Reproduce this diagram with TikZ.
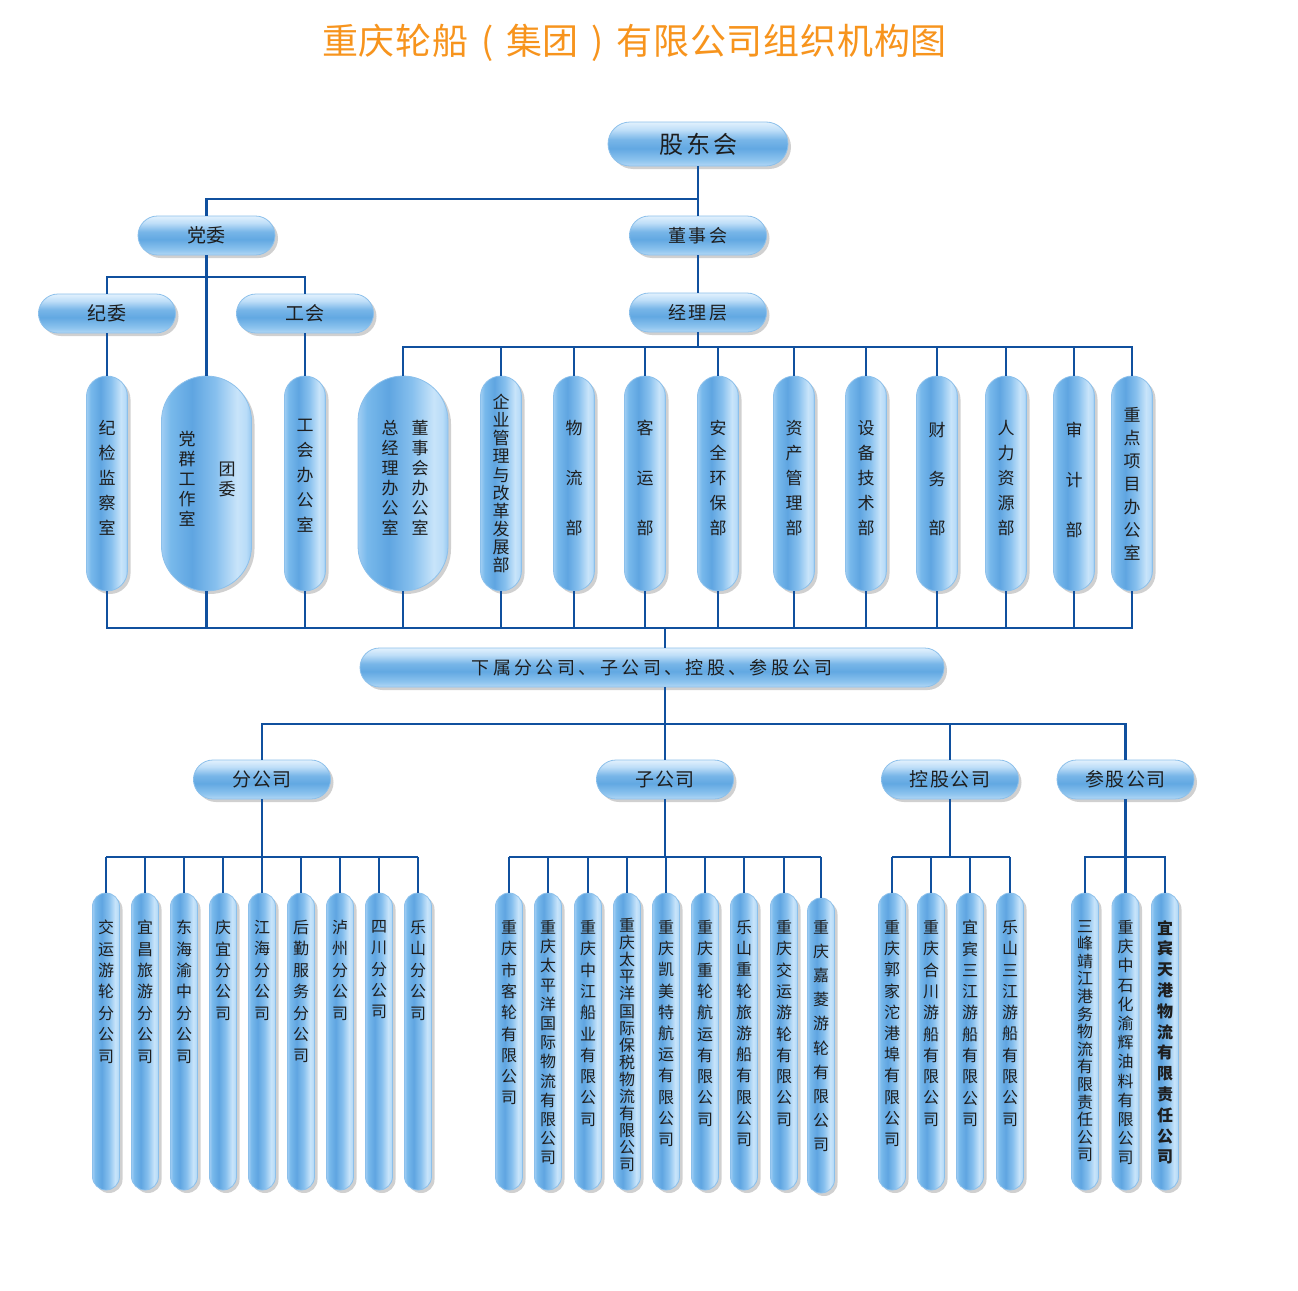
\documentclass[tikz,border=0pt]{standalone}
\usepackage{fontspec}
\setmainfont{Noto Sans CJK SC}
\usetikzlibrary{shadows}
\definecolor{linec}{RGB}{16,80,158}
\definecolor{rimc}{RGB}{140,192,235}
\definecolor{txtc}{RGB}{30,30,30}
\definecolor{titlec}{RGB}{247,148,29}
\definecolor{vpA}{RGB}{160,205,243}
\definecolor{vpB}{RGB}{120,185,235}
\definecolor{vpC}{RGB}{95,165,225}
\definecolor{vpD}{RGB}{135,192,238}
\definecolor{vpE}{RGB}{200,228,250}
\definecolor{vpF}{RGB}{185,220,248}
\definecolor{vpG}{RGB}{150,200,240}
\definecolor{hpA}{RGB}{178,215,245}
\definecolor{hpB}{RGB}{140,195,238}
\definecolor{hpC}{RGB}{98,168,226}
\definecolor{hpD}{RGB}{120,182,232}
\definecolor{hpE}{RGB}{190,222,248}
\definecolor{hpF}{RGB}{226,241,253}
\pgfdeclarehorizontalshading{vpillsh}{100bp}{color(0bp)=(vpA); color(25bp)=(vpA); color(30bp)=(vpB); color(42bp)=(vpC); color(55bp)=(vpD); color(67bp)=(vpE); color(72bp)=(vpF); color(75bp)=(vpG); color(100bp)=(vpG)}
\pgfdeclareverticalshading{hpillsh}{100bp}{color(0bp)=(hpA); color(25bp)=(hpA); color(32bp)=(hpB); color(45bp)=(hpC); color(55bp)=(hpD); color(66bp)=(hpE); color(75bp)=(hpF); color(100bp)=(hpF)}
\makeatletter
\def\vtx@loop#1{\ifx#1\@nil\else\hbox to 1em{\hss#1\hss}\expandafter\vtx@loop\fi}
\newcommand\vtx[2]{\vbox{\baselineskip=#1pt\lineskiplimit=-100pt\lineskip=0pt\expandafter\vtx@loop#2\@nil}}
\def\lsp@loop#1{\ifx#1\@nil\else#1\kern\lsp@sp\relax\expandafter\lsp@loop\fi}
\newcommand\lsp[2]{\def\lsp@sp{#1pt}\expandafter\lsp@loop#2\@nil\kern-#1pt\relax}
\makeatother
\newcommand\cparen[1]{\hbox to 1em{\hss#1\hss}}
\tikzset{
  conn/.style={draw=linec, line width=2.6pt},
  pillshadow/.style={drop shadow={shadow xshift=3pt, shadow yshift=-3pt, opacity=0.3, fill=black!60}},
  hpill/.style={pillshadow, shade, shading=hpillsh, draw=rimc, line width=0.8pt,
    rounded corners=19.5pt, minimum width=137pt, minimum height=39pt, inner sep=0pt,
    text=txtc, font=\fontsize{18}{18}\selectfont},
  vpill/.style={pillshadow, shade, shading=vpillsh, draw=rimc, line width=0.8pt,
    rounded corners=20.5pt, minimum width=41pt, minimum height=215pt, inner sep=0pt},
  wpill/.style={vpill, minimum width=90pt, rounded corners=45pt},
  bpill/.style={vpill, minimum width=27pt, minimum height=297pt, rounded corners=13.5pt},
  vlab/.style={inner sep=0pt, anchor=north, text=txtc, font=\fontsize{17}{17}\selectfont},
  blab/.style={vlab, font=\fontsize{16}{16}\selectfont},
}
\begin{document}
\begin{tikzpicture}[x=1pt,y=-1pt]
\fill[white] (0,0) rectangle (1298,1290);
\useasboundingbox (0,0) rectangle (1298,1290);
% title
\node[text=titlec, font=\fontsize{36}{36}\selectfont, inner sep=0pt] (title) at (634.5,43) {\lsp{0.8}{重庆轮船}\kern0.8pt\cparen{(}\kern0.8pt\lsp{0.8}{集团}\kern0.8pt\cparen{)}\kern0.8pt\lsp{0.8}{有限公司组织机构图}};
% top horizontal pills
\node[hpill, minimum width=180pt, minimum height=44pt, rounded corners=22pt, font=\fontsize{24}{24}\selectfont] (gdh) at (698,144) {\lsp{3}{股东会}};
\node[hpill, font=\fontsize{19}{19}\selectfont] (dw) at (206.5,235.5) {\lsp{1}{党委}};
\node[hpill] (dsh) at (698,235.5) {\lsp{2.3}{董事会}};
\node[hpill, font=\fontsize{19}{19}\selectfont] (jw) at (107,313.5) {\lsp{1}{纪委}};
\node[hpill, font=\fontsize{19}{19}\selectfont] (gh) at (305,313.5) {\lsp{1}{工会}};
\node[hpill] (jlc) at (698,312.5) {\lsp{2.3}{经理层}};
% upper vertical pills
\node[vpill] (u1) at (107,483.5) {};
\node[wpill] (u2) at (206.5,483.5) {};
\node[vpill] (u3) at (305,483.5) {};
\node[wpill] (u4) at (403,483.5) {};
\node[vpill] (u5) at (501,483.5) {};
\node[vpill] (u6) at (574,483.5) {};
\node[vpill] (u7) at (645,483.5) {};
\node[vpill] (u8) at (718,483.5) {};
\node[vpill] (u9) at (794,483.5) {};
\node[vpill] (u10) at (866,483.5) {};
\node[vpill] (u11) at (937,483.5) {};
\node[vpill] (u12) at (1006,483.5) {};
\node[vpill] (u13) at (1074,483.5) {};
\node[vpill] (u14) at (1132,483.5) {};
% upper texts
\node[vlab] (t1) at (107,420) {\vtx{25}{纪检监察室}};
\node[vlab] (t2a) at (187,431) {\vtx{20}{党群工作室}};
\node[vlab] (t2b) at (227,462) {\vtx{20}{团委}};
\node[vlab] (t3) at (305,419) {\vtx{25}{工会办公室}};
\node[vlab] (t4a) at (390,420) {\vtx{20}{总经理办公室}};
\node[vlab] (t4b) at (420,420) {\vtx{20}{董事会办公室}};
\node[vlab] (t5) at (501,394) {\vtx{18.1}{企业管理与改革发展部}};
\node[vlab] (t6) at (574,420) {\vtx{50}{物流部}};
\node[vlab] (t7) at (645,420) {\vtx{50}{客运部}};
\node[vlab] (t8) at (718,420) {\vtx{25}{安全环保部}};
\node[vlab] (t9) at (794,420) {\vtx{25}{资产管理部}};
\node[vlab] (t10) at (866,420) {\vtx{25}{设备技术部}};
\node[vlab] (t11) at (937,422) {\vtx{49}{财务部}};
\node[vlab] (t12) at (1006,420) {\vtx{25}{人力资源部}};
\node[vlab] (t13) at (1074,422) {\vtx{50}{审计部}};
\node[vlab] (t14) at (1132,407) {\vtx{23}{重点项目办公室}};
% middle pills
\node[hpill, minimum width=584pt] (xs) at (652,667.5) {\lsp{3.4}{下属分公司、子公司、控股、参股公司}};
\node[hpill, font=\fontsize{19}{19}\selectfont] (c1) at (262,779.5) {\lsp{1.5}{分公司}};
\node[hpill, font=\fontsize{19}{19}\selectfont] (c2) at (665,779.5) {\lsp{1.5}{子公司}};
\node[hpill, font=\fontsize{19}{19}\selectfont] (c3) at (950,779.5) {\lsp{1.5}{控股公司}};
\node[hpill, font=\fontsize{19}{19}\selectfont] (c4) at (1125.5,779.5) {\lsp{1.5}{参股公司}};
% bus coordinates
\coordinate (b0) at (0,199);
\coordinate (b1) at (0,277);
\coordinate (b2) at (0,347);
\coordinate (b3) at (0,628);
\coordinate (b4) at (0,724);
\coordinate (b5) at (0,857);
\coordinate (xd) at (665,0);
% top connectors
\draw[conn] (gdh.south) -- (dsh.north);
\draw[conn] (gdh.south |- b0) -| (dw.north);
\draw[conn] (dsh.south) -- (jlc.north);
\draw[conn] (dw.south) -- (u2.north);
\draw[conn] (jw.north) |- (dw.south |- b1) -| (gh.north);
\draw[conn] (jw.south) -- (u1.north);
\draw[conn] (gh.south) -- (u3.north);
\draw[conn] (jlc.south) -- (jlc.south |- b2);
\draw[conn] (u4.north) |- (u14.north |- b2) -- (u14.north);
\foreach \n in {5,...,13} {\draw[conn] (u\n.north) -- (u\n.north |- b2);}
% lower bus of departments
\draw[conn] (u1.south) |- (u14.south |- b3) -- (u14.south);
\foreach \n in {2,...,13} {\draw[conn] (u\n.south) -- (u\n.south |- b3);}
\draw[conn] (xd |- b3) -- (xd |- xs.north);
\draw[conn] (xd |- xs.south) -- (xd |- b4);
\draw[conn] (c1.north) |- (c4.north |- b4) -- (c4.north);
\draw[conn] (c2.north) -- (c2.north |- b4);
\draw[conn] (c3.north) -- (c3.north |- b4);
% branch companies
\foreach \i/\x/\p/\t in {1/106/21.4/交运游轮分公司, 2/145/21.4/宜昌旅游分公司, 3/184/21.4/东海渝中分公司, 4/223/21.4/庆宜分公司, 5/262/21.4/江海分公司, 6/301/21.4/后勤服务分公司, 7/340/21.4/泸州分公司, 8/379/21.4/四川分公司, 9/418/21.4/乐山分公司} {
  \node[bpill] (f\i) at (\x,1041.5) {};
  \node[blab] (f\i t) at (\x,920) {\vtx{\p}{\t}};
  \draw[conn] (f\i.north) -- (f\i.north |- b5);
}
\draw[conn] (f1.north |- b5) -- (f9.north |- b5);
\draw[conn] (c1.south) -- (c1.south |- b5);
% subsidiaries
\foreach \i/\x/\p/\t in {1/509/21.3/重庆市客轮有限公司, 2/548/19.2/重庆太平洋国际物流有限公司, 3/588/21.3/重庆中江船业有限公司, 5/666/21.2/重庆凯美特航运有限公司, 6/705/21.3/重庆重轮航运有限公司, 7/744/21.2/乐山重轮旅游船有限公司, 8/784/21.3/重庆交运游轮有限公司} {
  \node[bpill] (s\i) at (\x,1041.5) {};
  \node[blab] (s\i t) at (\x,920) {\vtx{\p}{\t}};
  \draw[conn] (s\i.north) -- (s\i.north |- b5);
}
\node[bpill] (s4) at (627,1041.5) {};
\node[blab] (s4t) at (627,918) {\vtx{17.1}{重庆太平洋国际保税物流有限公司}};
\draw[conn] (s4.north) -- (s4.north |- b5);
\node[bpill, minimum height=295pt] (s9) at (821,1045.5) {};
\node[blab] (s9t) at (821,920) {\vtx{24.1}{重庆嘉菱游轮有限公司}};
\draw[conn] (s9.north) -- (s9.north |- b5);
\draw[conn] (s1.north |- b5) -- (s9.north |- b5);
\draw[conn] (c2.south) -- (c2.south |- b5);
% holding companies
\foreach \i/\x/\p/\t in {1/892/21.2/重庆郭家沱港埠有限公司, 2/931/21.3/重庆合川游船有限公司, 3/970/21.3/宜宾三江游船有限公司, 4/1010/21.3/乐山三江游船有限公司} {
  \node[bpill] (k\i) at (\x,1041.5) {};
  \node[blab] (k\i t) at (\x,920) {\vtx{\p}{\t}};
  \draw[conn] (k\i.north) -- (k\i.north |- b5);
}
\draw[conn] (k1.north |- b5) -- (k4.north |- b5);
\draw[conn] (c3.south) -- (c3.south |- b5);
% associated companies
\node[bpill] (p1) at (1085,1041.5) {};
\node[blab] (p1t) at (1085,920) {\vtx{17.6}{三峰靖江港务物流有限责任公司}};
\node[bpill] (p2) at (1125.5,1041.5) {};
\node[blab] (p2t) at (1125.5,920) {\vtx{19.2}{重庆中石化渝辉油料有限公司}};
\node[bpill] (p3) at (1165,1041.5) {};
\node[blab, font=\fontsize{16}{16}\selectfont\bfseries] (p3t) at (1165,920) {\vtx{20.8}{宜宾天港物流有限责任公司}};
\draw[conn] (p1.north) |- (p3.north |- b5) -- (p3.north);
\draw[conn] (p2.north) -- (c4.south);
\end{tikzpicture}
\end{document}
